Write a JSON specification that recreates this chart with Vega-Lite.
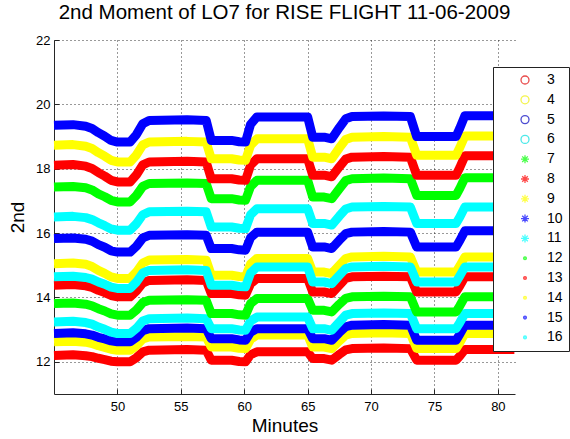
{
  "$schema": "https://vega.github.io/schema/vega-lite/v6.json",
  "width": 461,
  "height": 354,
  "autosize": {"type": "none"},
  "padding": {"left": 54, "top": 40, "right": 55, "bottom": 45},
  "background": "white",
  "title": {"text": "2nd Moment of LO7 for RISE FLIGHT 11-06-2009", "font": "Liberation Sans", "fontSize": 20.5, "fontWeight": "normal", "color": "black", "anchor": "middle", "frame": "group", "offset": 11},
  "config": {
    "view": {"stroke": null},
    "axis": {"domainColor": "#262626", "tickColor": "#262626", "tickSize": -5, "labelFont": "Liberation Sans", "labelFontSize": 13, "labelColor": "black", "titleFont": "Liberation Sans", "titleFontSize": 19, "titleFontWeight": "normal", "titleColor": "black", "grid": true, "gridColor": "black", "gridDash": [1, 3], "gridOpacity": 0.8, "labelFlush": false},
    "legend": {"orient": "none", "legendX": 439, "legendY": 27, "title": null, "fillColor": "white", "strokeColor": "#222222", "padding": 6, "symbolOffset": 19, "labelOffset": 15, "rowPadding": 5.8, "labelFont": "Liberation Sans", "labelFontSize": 14, "labelColor": "black", "symbolSize": 64, "symbolStrokeWidth": 1.3, "cornerRadius": 0}
  },
  "datasets": {
    "w": [
      {"t": 45.0, "3": 12.20, "4": 12.62, "5": 12.88, "6": 13.24, "7": 13.81, "8": 14.38, "9": 15.05, "10": 15.83, "11": 14.64, "12": 17.43, "13": 18.11, "14": 18.73, "15": 19.35, "16": 16.50},
      {"t": 46.5, "3": 12.22, "4": 12.64, "5": 12.90, "6": 13.26, "7": 13.83, "8": 14.40, "9": 15.07, "10": 15.85, "11": 14.66, "12": 17.45, "13": 18.13, "14": 18.75, "15": 19.37, "16": 16.52},
      {"t": 47.5, "3": 12.19, "4": 12.61, "5": 12.87, "6": 13.22, "7": 13.79, "8": 14.36, "9": 15.03, "10": 15.81, "11": 14.62, "12": 17.41, "13": 18.08, "14": 18.70, "15": 19.32, "16": 16.48},
      {"t": 48.0, "3": 12.16, "4": 12.57, "5": 12.83, "6": 13.17, "7": 13.74, "8": 14.31, "9": 14.96, "10": 15.75, "11": 14.57, "12": 17.34, "13": 18.01, "14": 18.63, "15": 19.25, "16": 16.42},
      {"t": 48.5, "3": 12.11, "4": 12.50, "5": 12.76, "6": 13.08, "7": 13.65, "8": 14.22, "9": 14.84, "10": 15.64, "11": 14.48, "12": 17.22, "13": 17.88, "14": 18.50, "15": 19.12, "16": 16.32},
      {"t": 49.0, "3": 12.07, "4": 12.45, "5": 12.71, "6": 13.01, "7": 13.58, "8": 14.15, "9": 14.75, "10": 15.56, "11": 14.41, "12": 17.13, "13": 17.77, "14": 18.39, "15": 19.01, "16": 16.23},
      {"t": 49.5, "3": 12.02, "4": 12.39, "5": 12.65, "6": 12.92, "7": 13.49, "8": 14.06, "9": 14.64, "10": 15.45, "11": 14.32, "12": 17.02, "13": 17.64, "14": 18.26, "15": 18.88, "16": 16.13},
      {"t": 50.0, "3": 12.00, "4": 12.36, "5": 12.62, "6": 12.88, "7": 13.45, "8": 14.02, "9": 14.59, "10": 15.41, "11": 14.28, "12": 16.97, "13": 17.59, "14": 18.21, "15": 18.83, "16": 16.09},
      {"t": 51.0, "3": 12.00, "4": 12.36, "5": 12.62, "6": 12.88, "7": 13.45, "8": 14.02, "9": 14.59, "10": 15.41, "11": 14.28, "12": 16.97, "13": 17.59, "14": 18.21, "15": 18.83, "16": 16.09},
      {"t": 51.5, "3": 12.13, "4": 12.50, "5": 12.76, "6": 13.04, "7": 13.61, "8": 14.20, "9": 14.79, "10": 15.59, "11": 14.48, "12": 17.17, "13": 17.81, "14": 18.43, "15": 19.06, "16": 16.29},
      {"t": 52.0, "3": 12.31, "4": 12.71, "5": 12.97, "6": 13.27, "7": 13.84, "8": 14.45, "9": 15.07, "10": 15.85, "11": 14.76, "12": 17.45, "13": 18.12, "14": 18.74, "15": 19.40, "16": 16.57},
      {"t": 52.5, "3": 12.36, "4": 12.77, "5": 13.03, "6": 13.34, "7": 13.91, "8": 14.53, "9": 15.16, "10": 15.93, "11": 14.84, "12": 17.54, "13": 18.21, "14": 18.83, "15": 19.50, "16": 16.66},
      {"t": 55.5, "3": 12.38, "4": 12.79, "5": 13.05, "6": 13.36, "7": 13.93, "8": 14.55, "9": 15.18, "10": 15.95, "11": 14.86, "12": 17.56, "13": 18.23, "14": 18.85, "15": 19.52, "16": 16.68},
      {"t": 57.0, "3": 12.36, "4": 12.77, "5": 13.03, "6": 13.34, "7": 13.91, "8": 14.53, "9": 15.16, "10": 15.93, "11": 14.84, "12": 17.54, "13": 18.21, "14": 18.83, "15": 19.50, "16": 16.66},
      {"t": 57.4, "3": 12.05, "4": 12.46, "5": 12.72, "6": 13.03, "7": 13.50, "8": 14.12, "9": 14.69, "10": 15.52, "11": 14.38, "12": 17.07, "13": 17.69, "14": 18.31, "15": 18.88, "16": 16.19},
      {"t": 59.0, "3": 12.05, "4": 12.46, "5": 12.72, "6": 13.03, "7": 13.50, "8": 14.12, "9": 14.69, "10": 15.52, "11": 14.38, "12": 17.07, "13": 17.69, "14": 18.31, "15": 18.88, "16": 16.19},
      {"t": 59.6, "3": 12.01, "4": 12.42, "5": 12.68, "6": 12.99, "7": 13.46, "8": 14.08, "9": 14.65, "10": 15.48, "11": 14.34, "12": 17.03, "13": 17.65, "14": 18.27, "15": 18.84, "16": 16.15},
      {"t": 60.1, "3": 12.00, "4": 12.41, "5": 12.67, "6": 12.98, "7": 13.45, "8": 14.07, "9": 14.64, "10": 15.47, "11": 14.33, "12": 17.02, "13": 17.64, "14": 18.26, "15": 18.83, "16": 16.14},
      {"t": 60.5, "3": 12.22, "4": 12.70, "5": 12.92, "6": 13.27, "7": 13.81, "8": 14.43, "9": 15.04, "10": 15.86, "11": 14.76, "12": 17.45, "13": 18.11, "14": 18.73, "15": 19.38, "16": 16.57},
      {"t": 61.0, "3": 12.31, "4": 12.83, "5": 13.03, "6": 13.39, "7": 13.97, "8": 14.59, "9": 15.21, "10": 16.03, "11": 14.95, "12": 17.64, "13": 18.31, "14": 18.93, "15": 19.61, "16": 16.76},
      {"t": 63.0, "3": 12.31, "4": 12.83, "5": 13.03, "6": 13.39, "7": 13.97, "8": 14.59, "9": 15.21, "10": 16.03, "11": 14.95, "12": 17.64, "13": 18.31, "14": 18.93, "15": 19.61, "16": 16.76},
      {"t": 65.0, "3": 12.31, "4": 12.83, "5": 13.03, "6": 13.39, "7": 13.97, "8": 14.59, "9": 15.21, "10": 16.03, "11": 14.95, "12": 17.64, "13": 18.31, "14": 18.93, "15": 19.61, "16": 16.76},
      {"t": 65.4, "3": 12.10, "4": 12.46, "5": 12.72, "6": 13.03, "7": 13.60, "8": 14.17, "9": 14.79, "10": 15.57, "11": 14.48, "12": 17.12, "13": 17.80, "14": 18.36, "15": 18.98, "16": 16.30},
      {"t": 66.3, "3": 12.10, "4": 12.46, "5": 12.72, "6": 13.03, "7": 13.60, "8": 14.17, "9": 14.79, "10": 15.57, "11": 14.48, "12": 17.12, "13": 17.80, "14": 18.36, "15": 18.98, "16": 16.30},
      {"t": 66.9, "3": 12.05, "4": 12.41, "5": 12.67, "6": 12.98, "7": 13.55, "8": 14.12, "9": 14.74, "10": 15.52, "11": 14.43, "12": 17.07, "13": 17.75, "14": 18.31, "15": 18.93, "16": 16.25},
      {"t": 67.5, "3": 12.23, "4": 12.65, "5": 12.91, "6": 13.24, "7": 13.79, "8": 14.38, "9": 15.00, "10": 15.78, "11": 14.69, "12": 17.38, "13": 18.06, "14": 18.65, "15": 19.28, "16": 16.53},
      {"t": 68.0, "3": 12.37, "4": 12.83, "5": 13.09, "6": 13.45, "7": 13.97, "8": 14.59, "9": 15.21, "10": 15.98, "11": 14.90, "12": 17.63, "13": 18.30, "14": 18.91, "15": 19.55, "16": 16.75},
      {"t": 68.5, "3": 12.41, "4": 12.88, "5": 13.14, "6": 13.50, "7": 14.02, "8": 14.64, "9": 15.26, "10": 16.03, "11": 14.95, "12": 17.69, "13": 18.36, "14": 18.98, "15": 19.62, "16": 16.81},
      {"t": 71.0, "3": 12.43, "4": 12.90, "5": 13.16, "6": 13.52, "7": 14.04, "8": 14.66, "9": 15.28, "10": 16.05, "11": 14.97, "12": 17.71, "13": 18.38, "14": 19.00, "15": 19.64, "16": 16.83},
      {"t": 73.1, "3": 12.41, "4": 12.88, "5": 13.14, "6": 13.50, "7": 14.02, "8": 14.64, "9": 15.26, "10": 16.03, "11": 14.95, "12": 17.69, "13": 18.36, "14": 18.98, "15": 19.62, "16": 16.81},
      {"t": 73.6, "3": 12.05, "4": 12.41, "5": 12.67, "6": 13.03, "7": 13.55, "8": 14.17, "9": 14.79, "10": 15.57, "11": 14.48, "12": 17.17, "13": 17.80, "14": 18.42, "15": 19.00, "16": 16.30},
      {"t": 76.7, "3": 12.05, "4": 12.41, "5": 12.67, "6": 13.03, "7": 13.55, "8": 14.17, "9": 14.79, "10": 15.57, "11": 14.48, "12": 17.17, "13": 17.80, "14": 18.42, "15": 19.00, "16": 16.30},
      {"t": 77.0, "3": 12.18, "4": 12.60, "5": 12.86, "6": 13.22, "7": 13.74, "8": 14.36, "9": 14.98, "10": 15.77, "11": 14.67, "12": 17.39, "13": 18.04, "14": 18.66, "15": 19.26, "16": 16.50},
      {"t": 77.4, "3": 12.38, "4": 12.88, "5": 13.14, "6": 13.50, "7": 14.02, "8": 14.64, "9": 15.26, "10": 16.07, "11": 14.95, "12": 17.72, "13": 18.40, "14": 19.02, "15": 19.65, "16": 16.81},
      {"t": 81.3, "3": 12.38, "4": 12.88, "5": 13.14, "6": 13.50, "7": 14.02, "8": 14.64, "9": 15.26, "10": 16.07, "11": 14.95, "12": 17.72, "13": 18.40, "14": 19.02, "15": 19.65, "16": 16.81}
    ]
  },
  "data": {"name": "w"},
  "transform": [{"fold": ["3", "4", "5", "6", "7", "8", "9", "10", "11", "12", "13", "14", "15", "16"], "as": ["s", "v"]}],
  "encoding": {
    "x": {"field": "t", "type": "quantitative", "scale": {"domain": [45, 81.35], "nice": false, "zero": false}, "axis": {"values": [50, 55, 60, 65, 70, 75, 80], "title": "Minutes", "labelPadding": 11, "titlePadding": 3}},
    "y": {"field": "v", "type": "quantitative", "scale": {"domain": [11, 22], "nice": false, "zero": false}, "axis": {"values": [12, 14, 16, 18, 20, 22], "title": "2nd", "labelPadding": 9, "titlePadding": 8}}
  },
  "layer": [
    {
      "mark": {"type": "line", "strokeWidth": 9, "strokeJoin": "round"},
      "encoding": {
        "color": {"field": "s", "type": "nominal", "scale": {"domain": ["16", "15", "14", "13", "12", "11", "10", "9", "8", "7", "6", "5", "4", "3"], "range": ["#00ffff", "#0000ff", "#ffff00", "#ff0000", "#00ff00", "#00ffff", "#0000ff", "#ffff00", "#ff0000", "#00ff00", "#00ffff", "#0000ff", "#ffff00", "#ff0000"]}, "legend": null}
      }
    },
    {
      "transform": [{"filter": "datum.t == 45"}],
      "mark": {"type": "point", "filled": true, "size": 0, "strokeWidth": 1.3},
      "encoding": {
        "stroke": {"field": "s", "type": "nominal", "scale": {"domain": ["3", "4", "5", "6", "7", "8", "9", "10", "11", "12", "13", "14", "15", "16"], "range": ["#e00000", "#f0f000", "#0000c0", "#00e0e0", "#00ff00", "#ff0000", "#ffff00", "#0000ff", "#00ffff", "#00ff00", "#ff0000", "#ffff00", "#0000ff", "#00ffff"]}},
        "fill": {"field": "s", "type": "nominal", "scale": {"domain": ["3", "4", "5", "6", "7", "8", "9", "10", "11", "12", "13", "14", "15", "16"], "range": ["transparent", "transparent", "transparent", "transparent", "#00ff00", "#ff0000", "#ffff00", "#0000ff", "#00ffff", "#00ff00", "#ff0000", "#ffff00", "#0000ff", "#00ffff"]}},
        "shape": {"field": "s", "type": "nominal", "scale": {"domain": ["3", "4", "5", "6", "7", "8", "9", "10", "11", "12", "13", "14", "15", "16"], "range": ["circle", "circle", "circle", "circle", "M-1,0L1,0M0,-1L0,1M-0.7,-0.7L0.7,0.7M-0.7,0.7L0.7,-0.7", "M-1,0L1,0M0,-1L0,1M-0.7,-0.7L0.7,0.7M-0.7,0.7L0.7,-0.7", "M-1,0L1,0M0,-1L0,1M-0.7,-0.7L0.7,0.7M-0.7,0.7L0.7,-0.7", "M-1,0L1,0M0,-1L0,1M-0.7,-0.7L0.7,0.7M-0.7,0.7L0.7,-0.7", "M-1,0L1,0M0,-1L0,1M-0.7,-0.7L0.7,0.7M-0.7,0.7L0.7,-0.7", "M-0.35,0A0.35,0.35,0,1,0,0.35,0A0.35,0.35,0,1,0,-0.35,0Z", "M-0.35,0A0.35,0.35,0,1,0,0.35,0A0.35,0.35,0,1,0,-0.35,0Z", "M-0.35,0A0.35,0.35,0,1,0,0.35,0A0.35,0.35,0,1,0,-0.35,0Z", "M-0.35,0A0.35,0.35,0,1,0,0.35,0A0.35,0.35,0,1,0,-0.35,0Z", "M-0.35,0A0.35,0.35,0,1,0,0.35,0A0.35,0.35,0,1,0,-0.35,0Z"]}}
      }
    }
  ]
}
